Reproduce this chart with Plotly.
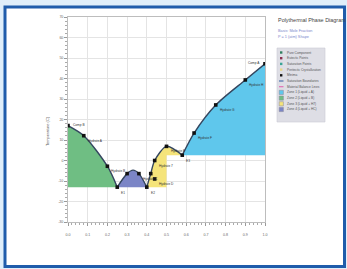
import plotly.graph_objects as go

# ---------------- data ----------------
# saturation boundaries (mole fraction, temperature C)
seg1_x = [0.0, 0.08, 0.20, 0.25]
seg1_T = [17.0, 12.1, -2.8, -13.0]
seg2_x = [0.25, 0.30, 0.33, 0.36, 0.40]
seg2_T = [-13.0, -6.4, -4.7, -6.4, -13.0]
seg3_x = [0.40, 0.42, 0.44, 0.50, 0.58]
seg3_T = [-13.0, -6.4, 0.0, 6.9, 2.6]
seg4_x = [0.58, 0.64, 0.75, 0.90, 1.0]
seg4_T = [2.6, 13.4, 27.1, 39.3, 47.2]

comp_x = [0.0, 1.0]
comp_T = [17.0, 47.2]
comp_labels = ["Comp B", "Comp A"]

eut_x = [0.25, 0.40, 0.58]
eut_T = [-13.0, -13.0, 2.6]
eut_labels = ["E1", "E2", "E3"]

sat_x = [0.08, 0.20, 0.30, 0.36, 0.42, 0.44, 0.44, 0.50, 0.64, 0.75, 0.90]
sat_T = [12.1, -2.8, -6.4, -6.4, -6.4, -9.0, 0.0, 6.9, 13.4, 27.1, 39.3]
sat_labels = ["Hydrate A", "Hydrate B", "", "Hydrate C", "", "Hydrate D",
              "Hydrate 7", "Hydrate E", "Hydrate F", "Hydrate G", "Hydrate H"]

legend_labels = ["Pure Component", "Eutectic Points", "Saturation Points",
                 "Peritectic Crystallization", "Minima", "Saturation Boundaries",
                 "Material Balance Lines", "Zone 1 (Liquid + A)", "Zone 2 (Liquid + B)",
                 "Zone 3 (Liquid + H7)", "Zone 4 (Liquid + HC)"]

x_ticks = [0.0, 0.1, 0.2, 0.3, 0.4, 0.5, 0.6, 0.7, 0.8, 0.9, 1.0]
y_ticks = [-30, -20, -10, 0, 10, 20, 30, 40, 50, 60, 70]

# ---------------- style ----------------
GREEN = "#6fbe83"
PURPLE = "#7b85c6"
YELLOW = "#f5e47a"
CYAN = "#5fc7ec"
CURVE = "#34465f"

fig = go.Figure()


def zone(base_x, base_y, cx, cy, color):
    fig.add_trace(go.Scatter(x=base_x, y=base_y, mode="lines", line=dict(width=0),
                             showlegend=False, hoverinfo="skip"))
    fig.add_trace(go.Scatter(x=cx, y=cy, mode="lines", fill="tonexty", fillcolor=color,
                             line=dict(color=CURVE, width=1.4, shape="spline", smoothing=0.8),
                             showlegend=False))


zone([seg1_x[0], seg1_x[-1]], [seg1_T[-1], seg1_T[-1]], seg1_x, seg1_T, GREEN)
zone([seg2_x[0], seg2_x[-1]], [seg2_T[0], seg2_T[-1]], seg2_x, seg2_T, PURPLE)
zone([seg3_x[0], seg3_x[3], seg3_x[3], seg3_x[-1]],
     [seg3_T[0], seg3_T[0], seg3_T[-1], seg3_T[-1]], seg3_x, seg3_T, YELLOW)
zone([seg4_x[0], seg4_x[-1]], [seg4_T[0], seg4_T[0]], seg4_x, seg4_T, CYAN)

pts_x = comp_x + eut_x + sat_x
pts_T = comp_T + eut_T + sat_T
fig.add_trace(go.Scatter(x=pts_x, y=pts_T, mode="markers",
                         marker=dict(symbol="square", size=3.6, color="#111"),
                         showlegend=False))

lab_font = dict(size=3.2, color="#333", family="Arial, Liberation Sans, sans-serif")
for x, t, s in zip(comp_x, comp_T, comp_labels):
    fig.add_annotation(x=x, y=t, text=s, showarrow=False, font=lab_font,
                       xanchor="left" if x < 0.5 else "right",
                       xshift=3 if x < 0.5 else -3, yshift=1)
for x, t, s in zip(eut_x, eut_T, eut_labels):
    fig.add_annotation(x=x, y=t, text=s, showarrow=False, font=lab_font,
                       xanchor="left", yanchor="top", xshift=2, yshift=-2)
for x, t, s in zip(sat_x, sat_T, sat_labels):
    if s:
        fig.add_annotation(x=x, y=t, text=s, showarrow=False, font=lab_font,
                           xanchor="left", yanchor="top", xshift=2, yshift=-1)

# ---------------- layout ----------------
PL, PR, PT, PB = 68, 265, 17, 222
W, H = 347, 269


def px(v):
    return (v - PL) / (PR - PL)


def py(v):
    return (PB - v) / (PB - PT)


shapes = [
    dict(type="rect", xref="paper", yref="paper", x0=px(5), x1=px(344.5), y0=py(266.5), y1=py(7),
         fillcolor="white", line=dict(color="#1f5cab", width=3), layer="below"),
    dict(type="rect", xref="paper", yref="paper", x0=px(277), x1=px(325), y0=py(122), y1=py(48),
         fillcolor="#dedee5", line=dict(color="#cacad3", width=0.6), layer="above"),
]

leg_marker_colors = ["#2f7f5f", "#8a3050", "#3aa595", "#e6d68a", "#111111"]
leg_line_colors = ["#4a70aa", "#e070b5"]
leg_zone_colors = [CYAN, GREEN, YELLOW, PURPLE]
annotations = []
for i, lab in enumerate(legend_labels):
    yc = 52.5 + i * 5.7
    if i < 5:
        shapes.append(dict(type="rect", xref="paper", yref="paper",
                           x0=px(280), x1=px(282.4), y0=py(yc + 1.2), y1=py(yc - 1.2),
                           fillcolor=leg_marker_colors[i], line=dict(width=0), layer="above"))
    elif i < 7:
        shapes.append(dict(type="line", xref="paper", yref="paper",
                           x0=px(279), x1=px(283.5), y0=py(yc), y1=py(yc),
                           line=dict(color=leg_line_colors[i - 5], width=1.2), layer="above"))
    else:
        shapes.append(dict(type="rect", xref="paper", yref="paper",
                           x0=px(279.2), x1=px(283.4), y0=py(yc + 2.1), y1=py(yc - 2.1),
                           fillcolor=leg_zone_colors[i - 7], line=dict(color="#8a8a9a", width=0.5),
                           layer="above"))
    annotations.append(dict(xref="paper", yref="paper", x=px(285), y=py(yc), text=lab,
                            showarrow=False, xanchor="left", yanchor="middle",
                            font=dict(size=3.2, color="#555",
                                      family="Arial, Liberation Sans, sans-serif")))

annotations += [
    dict(xref="paper", yref="paper", x=px(276), y=py(19.5), text="Polythermal Phase Diagram",
         showarrow=False, xanchor="left", yanchor="middle",
         font=dict(size=5.45, color="#444", family="Arial, Liberation Sans, sans-serif")),
    dict(xref="paper", yref="paper", x=px(276), y=py(31), text="Basis: Mole Fraction",
         showarrow=False, xanchor="left", yanchor="middle",
         font=dict(size=3.8, color="#7a86cc", family="Arial, Liberation Sans, sans-serif")),
    dict(xref="paper", yref="paper", x=px(276), y=py(37), text="P = 1 (atm) Shape",
         showarrow=False, xanchor="left", yanchor="middle",
         font=dict(size=3.8, color="#7a86cc", family="Arial, Liberation Sans, sans-serif")),
    dict(xref="paper", yref="paper", x=px(47), y=py(131), text="Temperature (C)",
         showarrow=False, textangle=-90, xanchor="center", yanchor="middle",
         font=dict(size=4, color="#555", family="Arial, Liberation Sans, sans-serif")),
]
for a in annotations:
    fig.add_annotation(**a)

tick_font = dict(size=3.6, color="#666", family="Arial, Liberation Sans, sans-serif")
fig.update_layout(
    width=W, height=H, autosize=False,
    margin=dict(l=PL, r=W - PR, t=PT, b=H - PB, pad=0),
    paper_bgcolor="#dfeefa", plot_bgcolor="white",
    showlegend=False, shapes=shapes,
    xaxis=dict(range=[0, 1], tickvals=x_ticks, ticktext=[f"{v:.1f}" for v in x_ticks],
               showgrid=True, gridcolor="#e4e4e4", gridwidth=0.8, zeroline=False,
               showline=True, linecolor="#bdbdbd", linewidth=0.8, mirror=True,
               ticks="outside", ticklen=3, tickcolor="#999", tickwidth=0.6,
               tickfont=tick_font, ticklabelstandoff=6,
               minor=dict(dtick=0.02, ticks="outside", ticklen=1.8, tickcolor="#aaa", tickwidth=0.5,
                          showgrid=False)),
    yaxis=dict(range=[-30, 70], tickvals=y_ticks, ticktext=[str(v) for v in y_ticks],
               showgrid=True, gridcolor="#e4e4e4", gridwidth=0.8, zeroline=False,
               showline=True, linecolor="#bdbdbd", linewidth=0.8, mirror=True,
               ticks="outside", ticklen=3, tickcolor="#999", tickwidth=0.6,
               tickfont=tick_font,
               minor=dict(dtick=2, ticks="outside", ticklen=1.8, tickcolor="#aaa", tickwidth=0.5,
                          showgrid=False)),
)

fig.write_html("out.html", config={"displayModeBar": False},
               post_script="document.body.style.margin='0';document.body.style.overflow='hidden';")
